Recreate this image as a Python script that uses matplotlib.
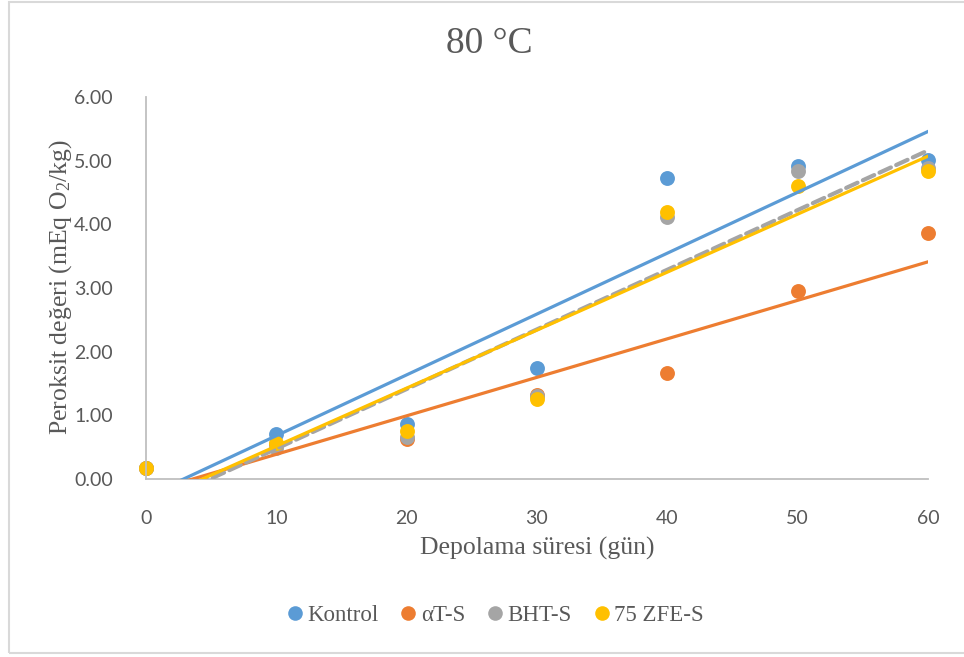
import numpy as np
import matplotlib
matplotlib.use("Agg")
import matplotlib.pyplot as plt
from matplotlib.lines import Line2D
from matplotlib.patches import Rectangle

days = [0, 10, 20, 30, 40, 50, 60]
kontrol = [0.18, 0.71, 0.86, 1.74, 4.73, 4.91, 5.01]
at_s = [0.18, 0.55, 0.63, 1.32, 1.67, 2.96, 3.87]
bht_s = [0.18, 0.49, 0.66, 1.30, 4.11, 4.83, 4.88]
zfe_s = [0.18, 0.56, 0.75, 1.25, 4.19, 4.60, 4.84]
series_names = ["Kontrol", "\u03b1T-S", "BHT-S", "75 ZFE-S"]
colors = ["#5B9BD5", "#ED7D31", "#A5A5A5", "#FFC000"]
y_ticks = [0, 1, 2, 3, 4, 5, 6]
x_ticks = [0, 10, 20, 30, 40, 50, 60]

plt.rcParams['mathtext.fontset'] = 'custom'
plt.rcParams['mathtext.rm'] = 'Liberation Serif'
plt.rcParams['mathtext.it'] = 'Liberation Serif:italic'

W, H = 964, 657
fig = plt.figure(figsize=(W / 100, H / 100), dpi=100)
fig.patch.set_facecolor("white")

# chart frame
fig.patches.append(Rectangle((9 / W, 1 - 653 / H), 1.2, (653 - 2) / H,
                             transform=fig.transFigure, fill=False,
                             edgecolor="#D9D9D9", linewidth=1.5))

ax = fig.add_axes([146 / W, 1 - 479 / H, (928 - 146) / W, (479 - 97) / H])
ax.set_xlim(0, 60)
ax.set_ylim(0, 6)

data = [kontrol, at_s, bht_s, zfe_s]
x = np.array(days, dtype=float)
for i, (vals, c) in enumerate(zip(data, colors)):
    ax.scatter(days, vals, s=115, color=c, zorder=2 + i * 0.01, linewidths=0, clip_on=False)

xx = np.array([0.0, 60.0])
for i, (vals, c) in enumerate(zip(data, colors)):
    m, b = np.polyfit(x, np.array(vals), 1)
    if i == 2:
        ax.plot(xx, m * xx + b, color=c, lw=3.0, ls=(0, (3.0, 1.4)), zorder=4 + i * 0.01,
                dash_capstyle='round')
    else:
        ax.plot(xx, m * xx + b, color=c, lw=2.3, zorder=4 + i * 0.01)

for s in ["top", "right"]:
    ax.spines[s].set_visible(False)
for s in ["left", "bottom"]:
    ax.spines[s].set_color("#BFBFBF")
    ax.spines[s].set_linewidth(1.3)

ax.set_yticks(y_ticks)
ax.set_yticklabels([f"{v:.2f}" for v in y_ticks])
ax.set_xticks(x_ticks)
ax.set_xticklabels([str(v) for v in x_ticks])
ax.tick_params(length=0, colors="#595959", labelsize=14)
ax.tick_params(axis='y', pad=24)
ax.tick_params(axis='x', pad=22)
for lab in ax.get_xticklabels() + ax.get_yticklabels():
    lab.set_family("Lato")

fig.text(489 / W, 1 - 44 / H, "80 \u00b0C", ha="center", va="center",
         family="Liberation Serif", fontsize=27, color="#595959")
fig.text(537 / W, 1 - 548 / H, "Depolama süresi (gün)", ha="center", va="center",
         family="Liberation Serif", fontsize=18.5, color="#595959")
fig.text(61 / W, 1 - 287 / H, r"Peroksit değeri (mEq O$_2$/kg)", ha="center", va="center",
         rotation=90, family="Liberation Serif", fontsize=18.5, color="#595959")

handles = [Line2D([], [], marker="o", ls="none", color=c, markersize=10.5, markeredgewidth=0)
           for c in colors]
leg = fig.legend(handles, series_names, loc="center", bbox_to_anchor=(493 / W, 1 - 615 / H),
                 ncol=4, frameon=False, handletextpad=0.0, columnspacing=0.75,
                 handlelength=1.1, prop={"family": "Liberation Serif", "size": 16.5})
for t in leg.get_texts():
    t.set_color("#595959")

fig.savefig("out.png", dpi=100)
